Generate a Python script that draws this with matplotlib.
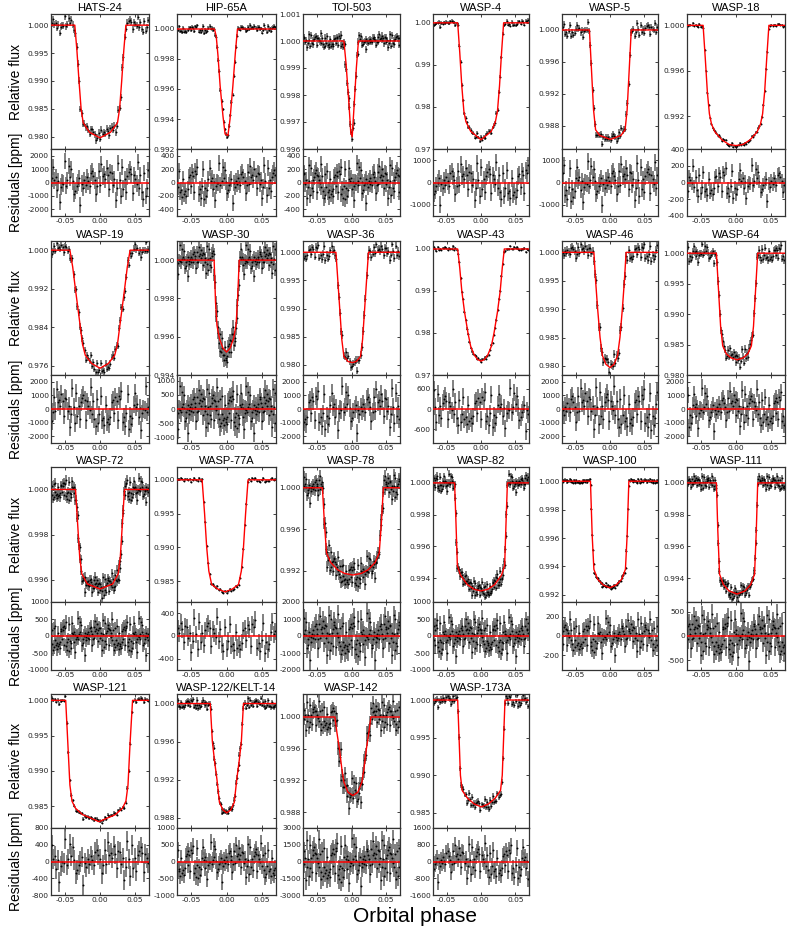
import numpy as np
import matplotlib
matplotlib.use("Agg")
import matplotlib.pyplot as plt
from matplotlib.ticker import FormatStrFormatter

W, H = 789, 935

PLANETS = ["HATS-24", "HIP-65A", "TOI-503", "WASP-4", "WASP-5", "WASP-18",
           "WASP-19", "WASP-30", "WASP-36", "WASP-43", "WASP-46", "WASP-64",
           "WASP-72", "WASP-77A", "WASP-78", "WASP-82", "WASP-100", "WASP-111",
           "WASP-121", "WASP-122/KELT-14", "WASP-142", "WASP-173A"]

# model curve vertices (phase, relative flux)
MODEL_PHASE = [
    [-0.07, -0.036, -0.033, -0.030, -0.027, -0.024, -0.015, 0.0, 0.015, 0.025, 0.028, 0.031, 0.034, 0.037, 0.07],
    [-0.07, -0.017, -0.0145, -0.012, -0.009, -0.005, -0.002, 0.002, 0.005, 0.009, 0.0125, 0.0155, 0.07],
    [-0.07, -0.011, -0.008, -0.004, -0.001, 0.001, 0.004, 0.007, 0.010, 0.07],
    [-0.07, -0.034, -0.031, -0.028, -0.025, -0.022, -0.015, 0.0, 0.015, 0.021, 0.024, 0.027, 0.030, 0.033, 0.07],
    [-0.07, -0.030, -0.027, -0.024, -0.021, -0.015, 0.0005, 0.016, 0.022, 0.025, 0.028, 0.031, 0.07],
    [-0.07, -0.047, -0.044, -0.041, -0.038, -0.035, -0.030, -0.020, -0.010, 0.0, 0.010, 0.020, 0.030, 0.035, 0.038, 0.041, 0.044, 0.047, 0.07],
    [-0.07, -0.043, -0.039, -0.035, -0.030, -0.025, -0.021, -0.012, 0.0, 0.012, 0.021, 0.025, 0.030, 0.035, 0.039, 0.043, 0.07],
    [-0.07, -0.0175, -0.0155, -0.0135, -0.010, -0.005, 0.0, 0.005, 0.010, 0.0135, 0.0155, 0.0180, 0.07],
    [-0.07, -0.0225, -0.020, -0.017, -0.014, -0.011, -0.005, 0.001, 0.007, 0.013, 0.016, 0.019, 0.022, 0.0245, 0.07],
    [-0.07, -0.034, -0.031, -0.028, -0.024, -0.019, -0.015, -0.010, -0.005, 0.0, 0.005, 0.010, 0.015, 0.019, 0.024, 0.028, 0.031, 0.034, 0.07],
    [-0.07, -0.0235, -0.021, -0.018, -0.0145, -0.011, -0.006, 0.0, 0.006, 0.011, 0.0145, 0.018, 0.021, 0.0235, 0.07],
    [-0.07, -0.028, -0.025, -0.022, -0.019, -0.014, -0.007, 0.0015, 0.010, 0.017, 0.022, 0.025, 0.028, 0.031, 0.07],
    [-0.07, -0.035, -0.032, -0.029, -0.026, -0.018, 0.0, 0.018, 0.026, 0.029, 0.032, 0.035, 0.07],
    [-0.07, -0.0345, -0.031, -0.028, -0.025, -0.021, -0.012, -0.002, 0.008, 0.017, 0.021, 0.024, 0.027, 0.0305, 0.07],
    [-0.07, -0.042, -0.039, -0.036, -0.030, -0.020, -0.010, 0.002, 0.014, 0.024, 0.034, 0.040, 0.043, 0.046, 0.07],
    [-0.07, -0.0385, -0.0365, -0.0345, -0.030, -0.020, -0.010, 0.0, 0.010, 0.020, 0.030, 0.0345, 0.0365, 0.0385, 0.07],
    [-0.07, -0.0285, -0.026, -0.0235, -0.018, -0.010, -0.0005, 0.009, 0.017, 0.0225, 0.025, 0.0275, 0.07],
    [-0.07, -0.028, -0.026, -0.0235, -0.018, -0.010, 0.0015, 0.013, 0.021, 0.0265, 0.029, 0.031, 0.07],
    [-0.07, -0.049, -0.046, -0.043, -0.040, -0.035, -0.025, -0.0014, 0.022, 0.032, 0.037, 0.040, 0.043, 0.0465, 0.07],
    [-0.07, -0.023, -0.020, -0.017, -0.0135, -0.010, -0.005, 0.0005, 0.006, 0.011, 0.0145, 0.018, 0.021, 0.024, 0.07],
    [-0.07, -0.024, -0.021, -0.0175, -0.014, -0.011, -0.005, 0.002, 0.009, 0.015, 0.018, 0.0215, 0.025, 0.028, 0.07],
    [-0.07, -0.034, -0.032, -0.030, -0.0275, -0.020, -0.010, 0.0005, 0.011, 0.021, 0.0285, 0.031, 0.033, 0.035, 0.07],
]
MODEL_FLUX = [
    [1.0, 1.0, 0.9955, 0.9900, 0.9850, 0.9825, 0.9808, 0.9798, 0.9808, 0.9825, 0.9850, 0.9900, 0.9955, 1.0, 1.0],
    [1.0, 1.0, 0.9995, 0.9982, 0.9962, 0.9942, 0.9930, 0.9929, 0.9940, 0.9962, 0.9984, 1.0, 1.0],
    [1.0, 1.0, 0.9992, 0.9978, 0.9966, 0.99645, 0.9977, 0.9990, 1.0, 1.0],
    [1.0, 1.0, 0.9930, 0.9850, 0.9790, 0.9765, 0.9742, 0.9722, 0.9742, 0.9765, 0.9790, 0.9850, 0.9930, 1.0, 1.0],
    [1.0, 1.0, 0.9950, 0.9900, 0.9875, 0.9868, 0.9863, 0.9868, 0.9875, 0.9900, 0.9950, 1.0, 1.0],
    [1.0, 1.0, 0.9972, 0.9942, 0.9922, 0.9913, 0.9906, 0.9899, 0.9895, 0.9894, 0.9895, 0.9899, 0.9906, 0.9913, 0.9922, 0.9942, 0.9972, 1.0, 1.0],
    [1.0, 1.0, 0.9965, 0.9918, 0.9862, 0.9805, 0.9782, 0.9765, 0.9755, 0.9765, 0.9782, 0.9805, 0.9862, 0.9918, 0.9965, 1.0, 1.0],
    [1.0, 1.0, 0.9978, 0.9966, 0.9959, 0.9954, 0.9952, 0.9954, 0.9959, 0.9966, 0.9978, 1.0, 1.0],
    [1.0, 1.0, 0.9955, 0.9900, 0.9845, 0.9815, 0.9806, 0.9804, 0.9806, 0.9815, 0.9845, 0.9900, 0.9955, 1.0, 1.0],
    [1.0, 1.0, 0.9955, 0.9900, 0.9850, 0.9800, 0.9768, 0.9748, 0.9737, 0.9733, 0.9737, 0.9748, 0.9768, 0.9800, 0.9850, 0.9900, 0.9955, 1.0, 1.0],
    [1.0, 1.0, 0.9950, 0.9900, 0.9850, 0.9818, 0.9803, 0.9797, 0.9803, 0.9818, 0.9850, 0.9900, 0.9950, 1.0, 1.0],
    [1.0, 1.0, 0.9940, 0.9880, 0.9848, 0.9835, 0.9828, 0.9825, 0.9828, 0.9835, 0.9848, 0.9880, 0.9940, 1.0, 1.0],
    [1.0, 1.0, 0.9985, 0.9970, 0.99625, 0.9958, 0.99558, 0.9958, 0.99625, 0.9970, 0.9985, 1.0, 1.0],
    [1.0, 1.0, 0.9950, 0.9900, 0.9865, 0.9845, 0.9838, 0.9834, 0.9838, 0.9845, 0.9865, 0.9900, 0.9950, 1.0, 1.0],
    [1.0, 1.0, 0.9965, 0.9937, 0.9928, 0.9921, 0.99175, 0.9916, 0.99175, 0.9921, 0.9928, 0.9937, 0.9965, 1.0, 1.0],
    [1.0, 1.0, 0.9975, 0.9948, 0.9942, 0.9936, 0.9933, 0.9932, 0.9933, 0.9936, 0.9942, 0.9948, 0.9975, 1.0, 1.0],
    [1.0, 1.0, 0.9962, 0.9938, 0.9931, 0.9927, 0.9925, 0.9927, 0.9931, 0.9938, 0.9962, 1.0, 1.0],
    [1.0, 1.0, 0.9970, 0.99425, 0.9936, 0.9932, 0.9930, 0.9932, 0.9936, 0.99425, 0.9970, 1.0, 1.0],
    [1.0, 1.0, 0.9940, 0.9880, 0.9857, 0.9847, 0.9838, 0.9828, 0.9838, 0.9847, 0.9857, 0.9880, 0.9940, 1.0, 1.0],
    [1.0, 1.0, 0.9960, 0.9940, 0.9920, 0.9896, 0.9888, 0.9885, 0.9888, 0.9896, 0.9920, 0.9940, 0.9960, 1.0, 1.0],
    [1.0, 1.0, 0.9980, 0.9960, 0.9935, 0.9918, 0.9905, 0.9901, 0.9905, 0.9918, 0.9935, 0.9960, 0.9980, 1.0, 1.0],
    [1.0, 1.0, 0.9950, 0.9900, 0.9880, 0.9870, 0.9862, 0.9858, 0.9862, 0.9870, 0.9880, 0.9900, 0.9950, 1.0, 1.0],
]

FLUX_YLIM = [(0.9778, 1.002), (0.992, 1.001), (0.996, 1.001), (0.970, 1.0021), (0.9851, 1.002), (0.9891, 1.001),
             (0.9741, 1.0019), (0.994, 1.001), (0.9782, 1.002), (0.970, 1.0019), (0.9784, 1.002), (0.980, 1.002),
             (0.995, 1.001), (0.9819, 1.0019), (0.989, 1.002), (0.9925, 1.001), (0.9915, 1.001), (0.9925, 1.001),
             (0.9819, 1.0009), (0.9869, 1.001), (0.986, 1.0029), (0.983, 1.0008)]
FLUX_TICKS = [[0.980, 0.985, 0.990, 0.995, 1.000], [0.992, 0.994, 0.996, 0.998, 1.000],
              [0.996, 0.997, 0.998, 0.999, 1.000, 1.001], [0.97, 0.98, 0.99, 1.00],
              [0.988, 0.992, 0.996, 1.000], [0.992, 0.996, 1.000],
              [0.976, 0.984, 0.992, 1.000], [0.994, 0.996, 0.998, 1.000],
              [0.980, 0.985, 0.990, 0.995, 1.000], [0.97, 0.98, 0.99, 1.00],
              [0.980, 0.985, 0.990, 0.995, 1.000], [0.980, 0.985, 0.990, 0.995, 1.000],
              [0.996, 0.998, 1.000], [0.985, 0.990, 0.995, 1.000],
              [0.992, 0.996, 1.000], [0.994, 0.996, 0.998, 1.000],
              [0.992, 0.994, 0.996, 0.998, 1.000], [0.994, 0.996, 0.998, 1.000],
              [0.985, 0.990, 0.995, 1.000], [0.988, 0.992, 0.996, 1.000],
              [0.988, 0.992, 0.996, 1.000], [0.985, 0.990, 0.995, 1.000]]
FLUX_DEC = [3, 3, 3, 2, 3, 3, 3, 3, 3, 2, 3, 3, 3, 3, 3, 3, 3, 3, 3, 3, 3, 3]

RES_LIM = [2500, 500, 500, 1500, 1500, 400, 2500, 1200, 2500, 1000, 2500, 2500,
           1000, 600, 2000, 1000, 350, 700, 800, 1000, 3000, 1600]
RES_TICKS = [[-2000, -1000, 0, 1000, 2000], [-400, -200, 0, 200, 400], [-400, -200, 0, 200, 400],
             [-1000, 0, 1000], [-1000, 0, 1000], [-400, -200, 0, 200, 400],
             [-2000, -1000, 0, 1000, 2000], [-1000, -500, 0, 500, 1000], [-2000, -1000, 0, 1000, 2000],
             [-600, 0, 600], [-2000, -1000, 0, 1000, 2000], [-2000, -1000, 0, 1000, 2000],
             [-1000, -500, 0, 500, 1000], [-400, 0, 400], [-2000, -1000, 0, 1000, 2000],
             [-1000, -500, 0, 500, 1000], [-200, 0, 200], [-500, 0, 500],
             [-800, -400, 0, 400, 800], [-1000, -500, 0, 500, 1000], [-3000, -1500, 0, 1500, 3000],
             [-1600, -800, 0, 800, 1600]]
# residual scatter and error bar size in ppm, number of binned points
RES_SIGMA = [750, 140, 140, 450, 450, 100, 800, 380, 800, 300, 850, 750,
             250, 170, 650, 270, 90, 230, 260, 280, 1000, 450]
RES_ERR = [600, 120, 120, 380, 380, 80, 650, 330, 650, 250, 700, 600,
           200, 150, 550, 220, 75, 190, 240, 240, 850, 380]
N_POINTS = [75, 90, 120, 75, 80, 75, 80, 150, 80, 75, 80, 100,
            160, 65, 150, 160, 120, 150, 65, 110, 130, 90]

# hand-read residual pattern (units of sigma), reused across panels
NOISE = [0.4, -1.1, 0.7, 1.5, -0.3, -0.9, 0.2, 1.1, -1.6, 0.5, -0.2, 0.9, -0.7, 1.8, -1.3, 0.1, 0.6, -0.5, -1.9, 0.8,
         1.2, -0.4, 0.3, -1.0, 0.0, 1.4, -0.8, -0.1, 0.7, -1.5, 2.1, -0.6, 0.4, -0.3, 1.0, -1.2, 0.2, 0.9, -0.9, 1.6,
         -0.2, -1.4, 0.5, 0.3, -0.7, 1.3, -1.7, 0.6, 0.1, -0.5, 0.8, -1.1, 1.9, -0.4, -0.8, 0.2, 1.1, -0.3, -1.3, 0.7,
         0.0, 1.5, -1.0, 0.4, -0.6, 1.2, -2.2, 0.3, 0.9, -0.1, -0.9, 1.7, -0.5, 0.6, -1.2, 0.2, 1.0, -0.7, -0.2, 1.3,
         -1.6, 0.5, 0.8, -0.4, 0.1, -1.0, 1.4, -0.3, 0.7, -1.8, 0.9, 0.3, -0.6, 1.1, -0.1, -1.4, 0.6, 2.0, -0.8, 0.2, -0.5]

# panel geometry in pixels
COL_X = [(51, 149), (177, 276), (303, 400), (433, 529), (562, 658), (687, 785)]
ROW_Y = [(14, 149, 216), (241, 375, 443), (467, 602, 670), (694, 828, 895)]

LABEL_FONT = ["Liberation Sans", "DejaVu Sans"]


def _axes(fig, x0, x1, y0, y1):
    return fig.add_axes([x0 / W, 1 - y1 / H, (x1 - x0) / W, (y1 - y0) / H])


def _style(ax):
    ax.set_xlim(-0.07, 0.07)
    ax.set_xticks([-0.05, 0.0, 0.05])
    ax.xaxis.set_major_formatter(FormatStrFormatter("%.2f"))
    ax.tick_params(direction="in", top=True, right=True, length=2.5, width=0.6,
                   labelsize=5.4, pad=1.5, colors="#222222")
    for s in ax.spines.values():
        s.set_linewidth(0.9)
        s.set_color("#333333")


fig = plt.figure(figsize=(W / 100, H / 100), dpi=100)
nn = len(NOISE)

for i, name in enumerate(PLANETS):
    r, c = divmod(i, 6)
    x0, x1 = COL_X[c]
    ytop, ymid, ybot = ROW_Y[r]
    axf = _axes(fig, x0, x1, ytop, ymid)
    axr = _axes(fig, x0, x1, ymid, ybot)

    n = N_POINTS[i]
    x = np.linspace(-0.069, 0.069, n)
    idx = (i * 17 + 3 * np.arange(n)) % nn
    res = RES_SIGMA[i] * np.array(NOISE)[idx]
    model = np.interp(x, MODEL_PHASE[i], MODEL_FLUX[i])
    err = RES_ERR[i]

    ekw = dict(fmt="o", ms=1.4, mfc="k", mec="k", mew=0, ecolor="0.42",
               elinewidth=1.2, capsize=0, zorder=2)
    axf.errorbar(x, model + res * 1e-6, yerr=err * 1e-6, **ekw)
    axf.plot(MODEL_PHASE[i], MODEL_FLUX[i], color="red", lw=1.0, zorder=3)
    _style(axf)
    axf.tick_params(labelbottom=False)
    axf.set_ylim(*FLUX_YLIM[i])
    axf.set_yticks(FLUX_TICKS[i])
    axf.yaxis.set_major_formatter(FormatStrFormatter(f"%.{FLUX_DEC[i]}f"))
    axf.set_title(name, fontsize=8, pad=2, family=LABEL_FONT)

    axr.errorbar(x, res, yerr=err, **ekw)
    axr.axhline(0, color="red", lw=1.1, zorder=3)
    _style(axr)
    axr.set_ylim(-RES_LIM[i], RES_LIM[i])
    axr.set_yticks(RES_TICKS[i])
    axr.yaxis.set_major_formatter(FormatStrFormatter("%d"))

    if c == 0:
        fig.text(16 / W, 1 - (ytop + ymid) / 2 / H, "Relative flux", rotation=90,
                 ha="center", va="center", fontsize=10, family=LABEL_FONT)
        fig.text(16 / W, 1 - (ymid + ybot) / 2 / H, "Residuals [ppm]", rotation=90,
                 ha="center", va="center", fontsize=10, family=LABEL_FONT)

fig.text(415 / W, 1 - 916 / H, "Orbital phase", ha="center", va="center",
         fontsize=15, family=LABEL_FONT)

fig.savefig("out.png", dpi=100)
